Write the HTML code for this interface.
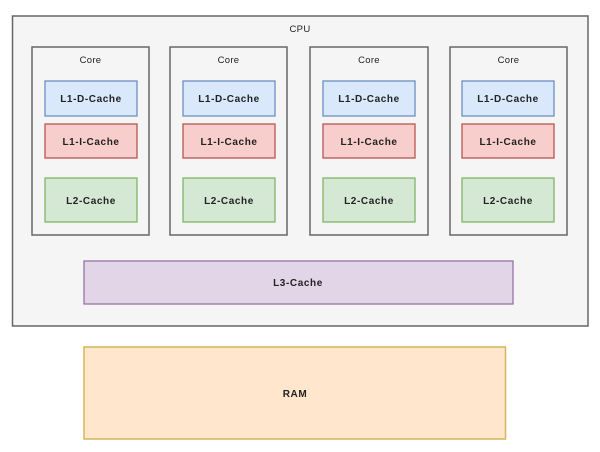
<!DOCTYPE html>
<html>
<head>
<meta charset="utf-8">
<style>
html,body{margin:0;padding:0;background:#fff;}
svg{display:block;}
text{font-family:"Liberation Sans",sans-serif;fill:#222;}
.b{font-weight:bold;font-size:10px;letter-spacing:0.6px;}
.r{font-size:9.5px;letter-spacing:0.3px;}
</style>
</head>
<body>
<svg width="600" height="452" viewBox="0 0 600 452" xmlns="http://www.w3.org/2000/svg">
<rect x="0" y="0" width="600" height="452" fill="#ffffff"/>
<!-- CPU -->
<rect x="12.5" y="16" width="575.5" height="310" fill="#f5f5f5" stroke="#666" stroke-width="1.5"/>
<text x="300" y="32" class="r" text-anchor="middle">CPU</text>

<!-- Core 1 -->
<rect x="32" y="47" width="117" height="188" fill="#f5f5f5" stroke="#666" stroke-width="1.5"/>
<text x="90.5" y="63" class="r" text-anchor="middle">Core</text>
<rect x="45" y="81" width="92" height="35" fill="#dae8fc" stroke="#6c8ebf" stroke-width="1.3"/>
<text x="91" y="102" class="b" text-anchor="middle">L1-D-Cache</text>
<rect x="45" y="124" width="92" height="34" fill="#f8cecc" stroke="#b85450" stroke-width="1.3"/>
<text x="91" y="145" class="b" text-anchor="middle">L1-I-Cache</text>
<rect x="45" y="178" width="92" height="44" fill="#d5e8d4" stroke="#82b366" stroke-width="1.3"/>
<text x="91" y="204" class="b" text-anchor="middle">L2-Cache</text>

<!-- Core 2 -->
<rect x="170" y="47" width="117" height="188" fill="#f5f5f5" stroke="#666" stroke-width="1.5"/>
<text x="228.5" y="63" class="r" text-anchor="middle">Core</text>
<rect x="183" y="81" width="92" height="35" fill="#dae8fc" stroke="#6c8ebf" stroke-width="1.3"/>
<text x="229" y="102" class="b" text-anchor="middle">L1-D-Cache</text>
<rect x="183" y="124" width="92" height="34" fill="#f8cecc" stroke="#b85450" stroke-width="1.3"/>
<text x="229" y="145" class="b" text-anchor="middle">L1-I-Cache</text>
<rect x="183" y="178" width="92" height="44" fill="#d5e8d4" stroke="#82b366" stroke-width="1.3"/>
<text x="229" y="204" class="b" text-anchor="middle">L2-Cache</text>

<!-- Core 3 -->
<rect x="310" y="47" width="118" height="188" fill="#f5f5f5" stroke="#666" stroke-width="1.5"/>
<text x="369" y="63" class="r" text-anchor="middle">Core</text>
<rect x="323" y="81" width="92" height="35" fill="#dae8fc" stroke="#6c8ebf" stroke-width="1.3"/>
<text x="369" y="102" class="b" text-anchor="middle">L1-D-Cache</text>
<rect x="323" y="124" width="92" height="34" fill="#f8cecc" stroke="#b85450" stroke-width="1.3"/>
<text x="369" y="145" class="b" text-anchor="middle">L1-I-Cache</text>
<rect x="323" y="178" width="92" height="44" fill="#d5e8d4" stroke="#82b366" stroke-width="1.3"/>
<text x="369" y="204" class="b" text-anchor="middle">L2-Cache</text>

<!-- Core 4 -->
<rect x="450" y="47" width="117" height="188" fill="#f5f5f5" stroke="#666" stroke-width="1.5"/>
<text x="508.5" y="63" class="r" text-anchor="middle">Core</text>
<rect x="462" y="81" width="92" height="35" fill="#dae8fc" stroke="#6c8ebf" stroke-width="1.3"/>
<text x="508" y="102" class="b" text-anchor="middle">L1-D-Cache</text>
<rect x="462" y="124" width="92" height="34" fill="#f8cecc" stroke="#b85450" stroke-width="1.3"/>
<text x="508" y="145" class="b" text-anchor="middle">L1-I-Cache</text>
<rect x="462" y="178" width="92" height="44" fill="#d5e8d4" stroke="#82b366" stroke-width="1.3"/>
<text x="508" y="204" class="b" text-anchor="middle">L2-Cache</text>

<!-- L3 -->
<rect x="84" y="261" width="429" height="43" fill="#e1d5e7" stroke="#9673a6" stroke-width="1.3"/>
<text x="298" y="286" class="b" text-anchor="middle">L3-Cache</text>

<!-- RAM -->
<rect x="84" y="347" width="421.5" height="92" fill="#ffe6cc" stroke="#d6b656" stroke-width="1.5"/>
<text x="295" y="397" class="b" text-anchor="middle">RAM</text>
</svg>
</body>
</html>
